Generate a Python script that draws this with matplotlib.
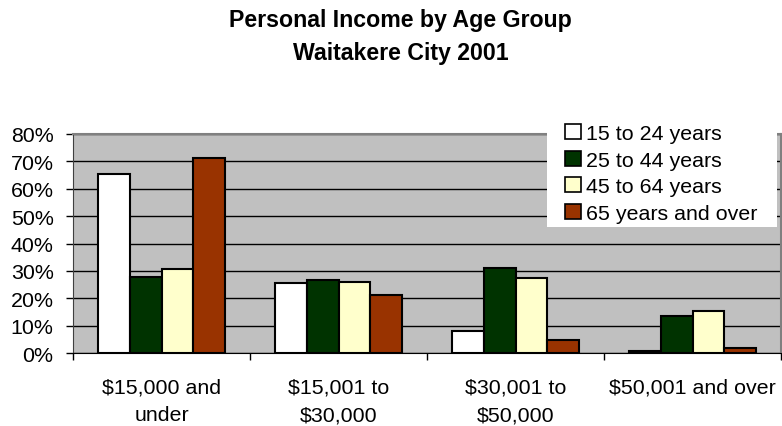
import numpy as np
import matplotlib.pyplot as plt
from matplotlib.patches import Rectangle
from matplotlib.ticker import PercentFormatter

plt.rcParams['font.family'] = ['Liberation Sans', 'DejaVu Sans']

# income bands and share of each age group (%)
categories = ["$15,000 and\nunder", "$15,001 to\n$30,000", "$30,001 to\n$50,000", "$50,001 and over"]
age_15_24 = [65.3, 25.5, 7.9, 0.6]
age_25_44 = [27.6, 26.8, 31.0, 13.6]
age_45_64 = [30.7, 25.9, 27.4, 15.3]
age_65_plus = [71.2, 21.3, 4.9, 1.7]
series_names = ["15 to 24 years", "25 to 44 years", "45 to 64 years", "65 years and over"]
colors = ['#FFFFFF', '#003300', '#FFFFCC', '#993300']

W, H = 782, 427
fig = plt.figure(figsize=(W / 100, H / 100), dpi=100)
ax = fig.add_axes([73 / W, 1 - 354 / H, 708 / W, 219 / H])
ax.set_facecolor('#C0C0C0')

x = np.arange(len(categories))
width = 0.18
data = [age_15_24, age_25_44, age_45_64, age_65_plus]
for i, (vals, name, c) in enumerate(zip(data, series_names, colors)):
    ax.bar(x + (i - 1.5) * width, vals, width, color=c, edgecolor='black',
           linewidth=1.5, label=name, zorder=3)

ax.set_xlim(-0.5, 3.5)
ax.set_ylim(0, 80)
ax.set_yticks(np.arange(0, 81, 10))
ax.yaxis.set_major_formatter(PercentFormatter(decimals=0))
ax.grid(axis='y', color='black', linewidth=1, zorder=1)
ax.set_axisbelow(True)

ax.set_xticks(x)
ax.set_xticklabels(categories, fontsize=15.4, linespacing=1.55)
ax.set_xticks(np.arange(-0.5, 4, 1), minor=True)
ax.tick_params(axis='x', which='major', length=0, pad=18)
ax.tick_params(axis='x', which='minor', length=5, width=1, direction='out')
ax.tick_params(axis='y', length=5, width=1, labelsize=15.4, pad=9)

for s in ['top', 'right']:
    ax.spines[s].set_color('#808080')
    ax.spines[s].set_linewidth(1.5)
ax.spines['left'].set_color('#404040')
ax.spines['bottom'].set_color('black')

fig.text(0.512, 0.951, "Personal Income by Age Group", ha='center', va='center',
         fontsize=16.7, fontweight='bold')
fig.text(0.512, 0.874, "Waitakere City 2001", ha='center', va='center',
         fontsize=16.7, fontweight='bold')

# white legend box, wider padding than matplotlib's frame allows
fig.patches.append(Rectangle((547 / W, 1 - 228 / H), 230 / W, 113 / H,
                             transform=fig.transFigure, facecolor='white',
                             edgecolor='none', zorder=5))
leg = fig.legend(*ax.get_legend_handles_labels(), loc='upper left',
                 bbox_to_anchor=(565 / W, 1 - 125 / H),
                 fontsize=15.4, frameon=False, handlelength=0.75, handleheight=0.7,
                 handletextpad=0.25, labelspacing=0.36, borderpad=0, borderaxespad=0)
leg.set_zorder(6)
for h in leg.legend_handles:
    h.set_linewidth(1.2)

fig.savefig("out.png", dpi=100)
